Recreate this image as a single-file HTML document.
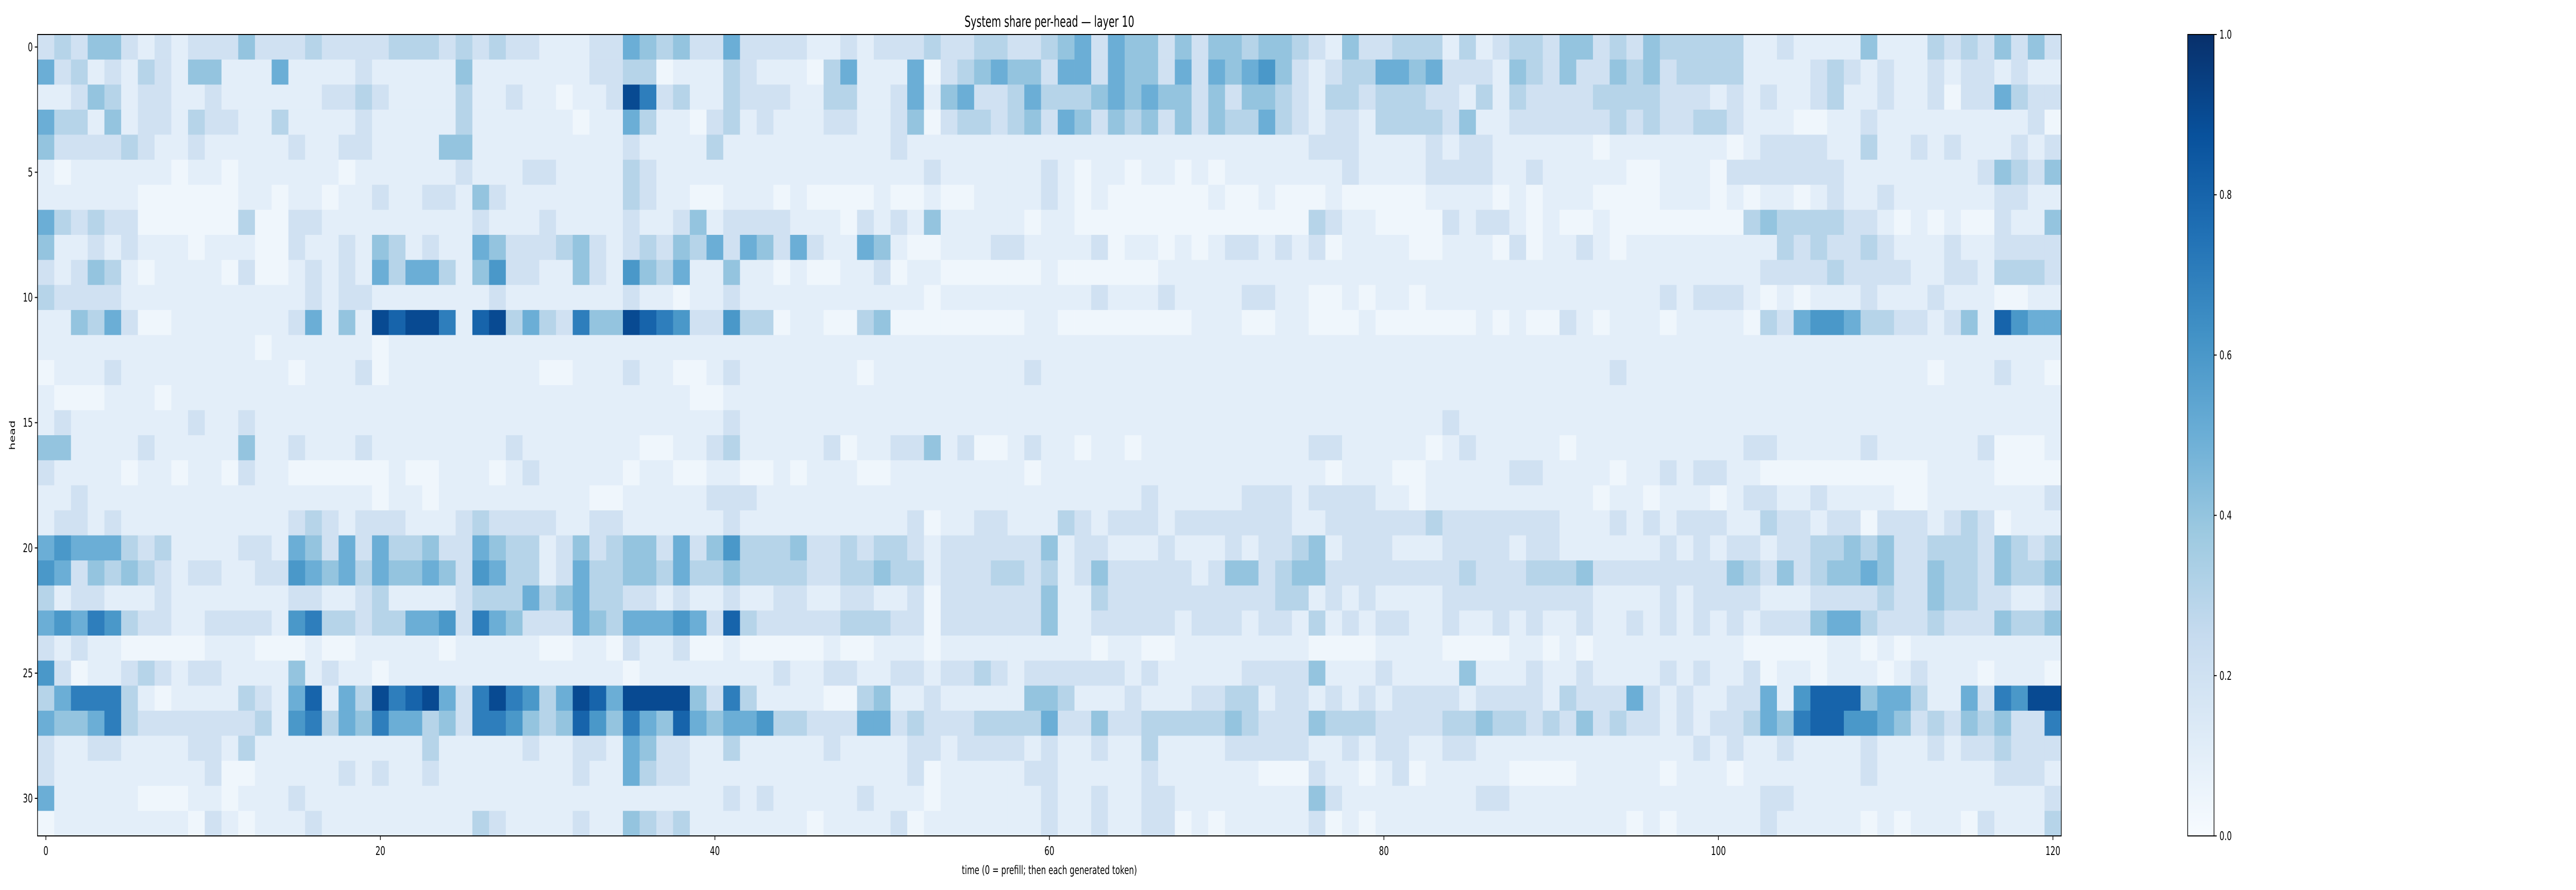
<!DOCTYPE html>
<html>
<head>
<meta charset="utf-8">
<style>
  html, body { margin:0; padding:0; background:#ffffff; width:100%; height:100%; overflow:hidden; }
  svg { display:block; width:100vw; height:100vh; }
  text { font-family: "DejaVu Sans", "Liberation Sans", sans-serif; fill:#000; }
</style>
</head>
<body>
<svg id="fig" xmlns="http://www.w3.org/2000/svg" viewBox="0 0 7622 1728" preserveAspectRatio="none">
  <rect x="0" y="0" width="7622" height="1728" fill="#ffffff"></rect>
  <text x="3105" y="52" font-size="29" text-anchor="middle">System share per-head — layer 10</text>
  <g id="cells"></g>
  <g id="axes"></g>
  <g id="cbar"></g>
  <text x="3105" y="1697" font-size="23" text-anchor="middle">time (0 = prefill; then each generated token)</text>
  <text x="0" y="0" font-size="23" text-anchor="middle" transform="translate(44,845) rotate(-90)">head</text>
</svg>
<script>
// Heatmap levels per head row (digit d = share ≈ d/10), columns = time steps 0..120
const headRows = [
"2324421212 2242223222 2333232322 1|1122543422 5222211212 2232233223 4|5254424244 3443214223 3313123324|4232433333 1121111411 132324242",
"5231213214 4111511112 1111141111 1|1122330111 3211103511 1502345442 5|5254425254 5642123355 4522214324|2243423333 1111232121 121221211",
"1124312211 2111111223 2111131121 1|0112972311 3222113311 2514522353 3|3454544242 4432133233 3221313222|2333322212 1211231121 120225322",
"5331412213 2211311112 1111131111 1|1011531102 3121112211 2402332342 5|4243424243 3532122133 3324112222|2232322332 1110011211 111111120",
"4222232112 1111121122 1111441111 1|1111211113 1111111111 2111111111 1|1111111111 1111222111 1212211111|1011111110 1222211311 212111212",
"1011111101 1011111101 1111121112 2|1111321111 1111111111 1121111112 1|0110110101 1111112111 1222211211|1110011102 2222221111 111124324",
"1111110000 0011011011 2112214211 1|1111321100 1110100001 0010011112 1|0100000010 0100010000 0111101011|1000011101 0110121121 111112211",
"5323220000 0030022111 1111112111 2|1111211241 2222111021 2141111101 1|0000000000 0000321100 0021221010|0100000000 3433332210 101002114",
"4112121110 1110021121 4312115422 2|3421232435 2542521154 1001112211 1|1201101012 2121201111 0011102011|2101111111 1132322321 112112222",
"2124310111 1020012121 5355314622 1|1421643511 4110100112 0110000001 0|0000011111 1111111111 1111111111|1111111111 1222232222 112213332",
"3222211111 1111112122 1111111211 1|1111211011 2111111111 1101111111 1|1211121111 2211001011 0111111111|1111121222 1010111211 121110011",
"1143520011 1111125141 9899718935 3|2744987622 6330110034 0000000011 0|0000000111 0011000100 0000101002|1011101111 0325665332 212418655",
"1111111111 1110111111 0111111111 1|1111111111 1111111111 1111111111 1|1111111111 1111111111 1111111111|1111111111 1111111111 111111111",
"0111211111 1111101112 0111111111 0|0111211001 2111111101 1111111121 1|1111111111 1111111111 1111111111|1121111111 1111111111 101112110",
"1000111011 1111111111 1111111111 1|1111111100 1111111111 1111111111 1|1111111111 1111111111 1111111111|1111111111 1111111111 111111111",
"1211111112 1121111111 1111111111 1|1111111111 2111111111 1111111111 1|1111111111 1111111111 1121111111|1111111111 1111111111 111111111",
"4411112111 1141121112 1111111121 1|1111100112 3111112011 2241200121 1|0110111111 1111221111 1012111110|1111111111 2211111211 111120001",
"2111101101 1021100000 0100111012 1|1111011001 1001011100 1111111101 1|1111111111 1111101110 0111112211|1101121221 1000000000 011110000",
"1121111111 1111111111 0110111111 1|1100111112 2211111111 1111111111 1|1111211111 2221222211 0111111111|1011011101 2211211110 011111112",
"1221211111 1111123212 2211123222 2|1122111111 2111111111 1201122111 3|2122212222 2221122222 2322222221|1121212221 1322122022 212320111",
"5655532311 1122154252 5334225433 1|2423442524 6333422323 3212222224 1|2211121112 1223412221 1122221221|1111121212 2122334342 233324323",
"6524343212 2112265453 5445426533 1|2533443533 4333322334 3312223323 1|2422222124 4234422222 2223222333|4222222224 3242344542 243324334",
"3122111211 1111122112 3111123335 3|4533221211 2112211221 1202222224 1|1322222222 2233121211 1122222222|2111121222 2111222232 243322112",
"5657632211 2222167332 3355627542 2|2543555652 8322222333 2202222224 1|1222221222 1221312122 1121121211|2112121212 1222455322 232224334",
"2121100000 1110001001 1111011111 0|0110211200 1000001001 1101111111 1|1011001111 1111000011 1100001101|0111111111 0000011010 111111111",
"6201123212 2111141211 0111111111 1|1111011111 1112112211 2212232122 2|2221211111 2222411121 1114111211|2111121211 2011011101 211101110",
"3577731011 1132158153 9789527976 3|5985999942 7311110034 1121111144 3|1112111223 3122121212 2221222213|2225212112 2516888455 311527699",
"5445732222 2223167354 7553427764 3|4864754854 5563322255 2322233335 2|2422333334 3222433322 2233433232|4232212122 3547886654 232434227",
"2112211112 2131111111 1113111112 1|1221542211 3111112111 1221222212 1|1211311112 2222112122 1122111111|1111111212 1121111211 121223222",
"2111111111 2001111121 2112111111 1|1211532211 1111111111 1201111122 1|1111211111 1000211012 0111110000|1111101110 1111111211 111112221",
"5111110001 1011121111 1111111111 1|1111111111 2121111121 1101111112 1|1211221111 1111421111 1111221111|1111111111 1221111111 111111112",
"0111111110 2101112111 1111113211 1|1211432311 1111101111 2011111112 1|1211220101 1111201011 1111111111|1110101111 1211111010 111021113"
];
const xTickValues = [0, 20, 40, 60, 80, 100, 120];
const xTickLabels = ["0", "20", "40", "60", "80", "100", "120"];
const yTickValues = [0, 5, 10, 15, 20, 25, 30];
const yTickLabels = ["0", "5", "10", "15", "20", "25", "30"];
const cbarTickValues = [0, 0.2, 0.4, 0.6, 0.8, 1.0];
const cbarTickLabels = ["0.0", "0.2", "0.4", "0.6", "0.8", "1.0"];

const NS = "http://www.w3.org/2000/svg";
const nCols = 121, nRows = headRows.length;
const PL = 111, PR = 6099, PT = 67, PB = 1623;
const cw = (PR - PL) / nCols, ch = (PB - PT) / nRows;
function xScale(t) { return PL + (t + 0.5) * cw; }
function yScale(h) { return PT + (h + 0.5) * ch; }

const stops = ["#f7fbff","#deebf7","#c6dbef","#9ecae1","#6baed6","#4292c6","#2171b5","#08519c","#08306b"];
function hex(c){ return [parseInt(c.slice(1,3),16),parseInt(c.slice(3,5),16),parseInt(c.slice(5,7),16)]; }
const stopRGB = stops.map(hex);
function blues(v) {
  v = Math.max(0, Math.min(1, v));
  const p = v * 8, i = Math.min(7, Math.floor(p)), f = p - i;
  const a = stopRGB[i], b = stopRGB[i+1];
  const c = a.map((x,k)=>Math.round(x + (b[k]-x)*f));
  return "rgb(" + c.join(",") + ")";
}
function decode(s) {
  let d = s.replace(/[^0-9]/g, "");
  while (d.length < nCols) d += "1";
  d = d.slice(0, nCols);
  return d.split("").map(ch => { const n = +ch; return n === 0 ? 0.04 : n / 10; });
}
const values = headRows.map(decode);

const cells = document.getElementById("cells");
values.forEach((row, h) => {
  row.forEach((v, t) => {
    const r = document.createElementNS(NS, "rect");
    r.setAttribute("x", (xScale(t) - cw/2).toFixed(2));
    r.setAttribute("y", (yScale(h) - ch/2).toFixed(2));
    r.setAttribute("width", (cw + 0.6).toFixed(2));
    r.setAttribute("height", (ch + 0.6).toFixed(2));
    r.setAttribute("fill", blues(v));
    
    
    cells.appendChild(r);
  });
});

const axes = document.getElementById("axes");
const frame = document.createElementNS(NS, "rect");
frame.setAttribute("x", PL); frame.setAttribute("y", PT);
frame.setAttribute("width", PR-PL); frame.setAttribute("height", PB-PT);
frame.setAttribute("fill", "none"); frame.setAttribute("stroke", "#000"); frame.setAttribute("stroke-width", "2");


axes.appendChild(frame);

xTickValues.forEach((v, i) => {
  const x = xScale(v);
  const l = document.createElementNS(NS, "line");
  l.setAttribute("x1", x); l.setAttribute("x2", x); l.setAttribute("y1", PB); l.setAttribute("y2", PB + 8);
  l.setAttribute("stroke", "#000"); l.setAttribute("stroke-width", "2");
  
  
  axes.appendChild(l);
  const tx = document.createElementNS(NS, "text");
  tx.setAttribute("x", x); tx.setAttribute("y", PB + 37);
  tx.setAttribute("font-size", "23"); tx.setAttribute("text-anchor", "middle");
  tx.textContent = xTickLabels[i];
  
  
  axes.appendChild(tx);
});
yTickValues.forEach((v, i) => {
  const y = yScale(v);
  const l = document.createElementNS(NS, "line");
  l.setAttribute("x1", PL - 8); l.setAttribute("x2", PL); l.setAttribute("y1", y); l.setAttribute("y2", y);
  l.setAttribute("stroke", "#000"); l.setAttribute("stroke-width", "2");
  
  
  axes.appendChild(l);
  const tx = document.createElementNS(NS, "text");
  tx.setAttribute("x", PL - 14); tx.setAttribute("y", y + 8);
  tx.setAttribute("font-size", "23"); tx.setAttribute("text-anchor", "end");
  tx.textContent = yTickLabels[i];
  
  
  axes.appendChild(tx);
});

// Colorbar
const CL = 6473, CR = 6551;
const cbar = document.getElementById("cbar");
const defs = document.createElementNS(NS, "defs");
const grad = document.createElementNS(NS, "linearGradient");
grad.setAttribute("id", "bluesGrad"); grad.setAttribute("x1", "0"); grad.setAttribute("y1", "1"); grad.setAttribute("x2", "0"); grad.setAttribute("y2", "0");
stops.forEach((c, i) => {
  const s = document.createElementNS(NS, "stop");
  s.setAttribute("offset", (i / 8).toFixed(3)); s.setAttribute("stop-color", c);
  grad.appendChild(s);
});
defs.appendChild(grad); cbar.appendChild(defs);
const cb = document.createElementNS(NS, "rect");
cb.setAttribute("x", CL); cb.setAttribute("y", PT); cb.setAttribute("width", CR-CL); cb.setAttribute("height", PB-PT);
cb.setAttribute("fill", "url(#bluesGrad)"); cb.setAttribute("stroke", "#000"); cb.setAttribute("stroke-width", "2");


cbar.appendChild(cb);
function cbY(v) { return PB - v * (PB - PT); }
cbarTickValues.forEach((v, i) => {
  const y = cbY(v);
  const l = document.createElementNS(NS, "line");
  l.setAttribute("x1", CR); l.setAttribute("x2", CR + 8); l.setAttribute("y1", y); l.setAttribute("y2", y);
  l.setAttribute("stroke", "#000"); l.setAttribute("stroke-width", "2");
  
  
  cbar.appendChild(l);
  const tx = document.createElementNS(NS, "text");
  tx.setAttribute("x", CR + 16); tx.setAttribute("y", y + 8);
  tx.setAttribute("font-size", "23"); tx.setAttribute("text-anchor", "start");
  tx.textContent = cbarTickLabels[i];
  
  
  cbar.appendChild(tx);
});
</script>
</body>
</html>
